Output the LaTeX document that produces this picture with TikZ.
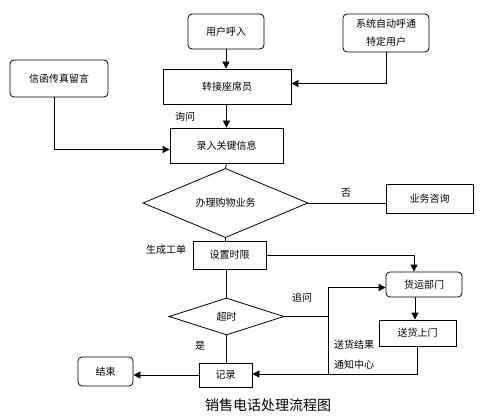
\documentclass[tikz,border=0pt]{standalone}
\usepackage{fontspec}
\setmainfont{Noto Sans CJK SC}
\usetikzlibrary{shapes.geometric,arrows.meta}
\begin{document}
\begin{tikzpicture}[x=1pt,y=-1pt,
  line width=0.8pt,
  base/.style={draw, inner sep=0pt, font=\fontsize{10}{18}\selectfont, align=center},
  sqbox/.style={base, rectangle},
  rbox/.style={base, rectangle, rounded corners=4pt},
  dec/.style={base, diamond},
  lbl/.style={inner sep=0pt, font=\fontsize{10}{18}\selectfont},
  arr/.style={-{Triangle[length=7pt,width=7pt]}}
]
\useasboundingbox[fill=white] (0,0) rectangle (486,419);

\node[rbox, minimum width=76pt, minimum height=35pt] (in) at (226,31.5) {用户呼入};
\node[rbox, minimum width=86pt, minimum height=38pt] (sys) at (386,33) {系统自动呼通\\特定用户};
\node[sqbox, minimum width=128pt, minimum height=35pt] (seat) at (227,86.5) {转接座席员};
\node[rbox, minimum width=98pt, minimum height=37pt] (fax) at (59,78.5) {信函传真留言};
\node[sqbox, minimum width=113pt, minimum height=35pt] (rec) at (226.5,145.5) {录入关键信息};
\node[dec, minimum width=165pt, minimum height=38pt] (d1) at (225.5,203) {办理购物业务};
\node[sqbox, minimum width=87pt, minimum height=29pt] (cons) at (429.5,198.5) {业务咨询};
\node[sqbox, minimum width=73pt, minimum height=28pt] (limit) at (229.5,255) {设置时限};
\node[rbox, minimum width=76pt, minimum height=25pt] (ship) at (424,284.5) {货运部门};
\node[sqbox, minimum width=77pt, minimum height=26pt] (deliv) at (417.5,333) {送货上门};
\node[dec, minimum width=115pt, minimum height=37pt] (d2) at (226.5,316.5) {超时};
\node[sqbox, minimum width=53pt, minimum height=24pt] (log) at (225.5,375) {记录};
\node[rbox, minimum width=55pt, minimum height=29pt] (end) at (105.5,371.5) {结束};

\node[lbl] (l1) at (185,117) {询问};
\node[lbl] (l2) at (346,193) {否};
\node[lbl] (l3) at (166,250) {生成工单};
\node[lbl] (l4) at (302,298) {追问};
\node[lbl] (l5) at (354,345) {送货结果};
\node[lbl] (l6) at (354,365) {通知中心};
\node[lbl] (l7) at (200,346) {是};
\node[inner sep=0pt, font=\fontsize{14}{16}\selectfont] (title) at (268,405) {销售电话处理流程图};

\coordinate (j1) at (328,316.5);
\coordinate (j2) at (328,374);

\draw[arr] (in.south) -- (in.south |- seat.north);
\draw[arr] (sys.south) |- ([yshift=3pt]seat.east);
\draw[arr] ([xshift=-5pt]fax.south) |- ([yshift=-4pt]rec.west);
\draw[arr] (seat.south -| rec.north) -- (rec.north);
\draw (rec.south) -- (d1.north);
\draw (d1.east) -- (d1.east -| cons.west);
\draw (d1.south) -- (d1.south |- limit.north);
\draw[arr] (limit.east) -| ([xshift=-10pt]ship.north);
\draw (limit.south -| d2.north) -- (d2.north);
\draw (d2.east) -- (j1);
\draw[arr] (j1) |- ([yshift=-3pt]ship.west);
\draw (j1) -- (j2);
\draw[arr] ([xshift=-9pt]ship.south) -- ([xshift=-9pt]ship.south |- deliv.north);
\draw[arr] (deliv.south) |- ([yshift=1pt]log.east);
\draw (d2.south) -- (d2.south |- log.north);
\draw[arr] (log.west) -- (log.west -| end.east);
\end{tikzpicture}
\end{document}
